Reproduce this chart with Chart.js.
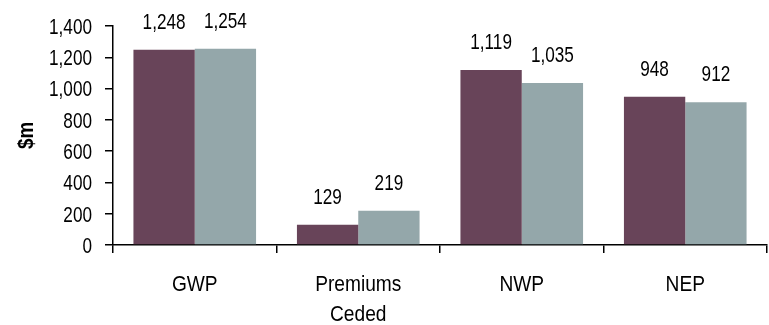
<!DOCTYPE html>
<html>
<head>
<meta charset="utf-8">
<script src="https://cdn.jsdelivr.net/npm/chart.js@4/dist/chart.umd.min.js"></script>
<style>
  html, body { margin: 0; padding: 0; background: #fff; }
  #wrap { width: 769px; height: 325px; }
</style>
</head>
<body>
<div id="wrap"><canvas id="c" width="769" height="325"></canvas></div>
<script>
// Premium figures, $m
const categories = ['GWP', ['Premiums', 'Ceded'], 'NWP', 'NEP'];
const seriesA = [1248, 129, 1119, 948];
const seriesB = [1254, 219, 1035, 912];
const yTicks = [0, 200, 400, 600, 800, 1000, 1200, 1400];

const FONT = '"Liberation Sans", Arial, sans-serif';
const FSIZE = 22;
const SQUEEZE_NUM = 0.78;   // condensed figures
const SQUEEZE_TXT = 0.87;   // condensed words
const fmt = v => Number(v).toLocaleString('en-US');

function narrowText(ctx, text, x, y, align, squeeze, weight) {
  ctx.save();
  ctx.font = (weight || 'normal') + ' ' + FSIZE + 'px ' + FONT;
  ctx.fillStyle = '#000';
  ctx.textAlign = align;
  ctx.textBaseline = 'alphabetic';
  ctx.translate(x, y);
  ctx.scale(squeeze, 1);
  ctx.fillText(text, 0, 0);
  ctx.restore();
}

// Axis text, title and bar values in a condensed face
const narrowLabels = {
  id: 'narrowLabels',
  afterDraw(chart) {
    const ctx = chart.ctx;
    const xs = chart.scales.x, ys = chart.scales.y;
    const capHalf = FSIZE * 0.716 / 2;

    // y tick labels
    ys.ticks.forEach((t, i) => {
      narrowText(ctx, fmt(t.value), ys.right - 21, ys.getPixelForTick(i) + capHalf, 'right', SQUEEZE_NUM);
    });

    // category labels (may span two lines)
    categories.forEach((lab, i) => {
      const lines = Array.isArray(lab) ? lab : [lab];
      const x = xs.getPixelForTick(i);
      lines.forEach((ln, k) => {
        narrowText(ctx, ln, x, 291 + k * 30, 'center', SQUEEZE_TXT);
      });
    });

    // rotated axis title
    ctx.save();
    ctx.translate(33, (chart.chartArea.top + chart.chartArea.bottom) / 2);
    ctx.rotate(-Math.PI / 2);
    narrowText(ctx, '$m', 0, 0, 'center', 0.85, 'bold');
    ctx.restore();

    // bar values
    chart.data.datasets.forEach((ds, i) => {
      chart.getDatasetMeta(i).data.forEach((bar, j) => {
        narrowText(ctx, fmt(ds.data[j]), bar.x, bar.y - 21, 'center', SQUEEZE_NUM);
      });
    });
  }
};

new Chart(document.getElementById('c'), {
  type: 'bar',
  data: {
    labels: categories,
    datasets: [
      { data: seriesA, backgroundColor: '#684459', borderWidth: 0 },
      { data: seriesB, backgroundColor: '#94a7aa', borderWidth: 0 }
    ]
  },
  options: {
    responsive: false,
    animation: false,
    layout: { padding: { top: 26, right: 2, left: 0, bottom: 0 } },
    plugins: { legend: { display: false }, tooltip: { enabled: false } },
    datasets: { bar: { categoryPercentage: 0.75, barPercentage: 1.0 } },
    scales: {
      x: {
        grid: { offset: true, drawOnChartArea: false, drawTicks: true, tickLength: 8, color: '#000', lineWidth: 1.5 },
        border: { display: true, color: '#000', width: 1.5 },
        ticks: { color: 'rgba(0,0,0,0)', font: { family: FONT, size: FSIZE }, maxRotation: 0 },
        afterFit(scale) { scale.height = 80; }
      },
      y: {
        min: 0, max: 1400,
        afterBuildTicks(scale) { scale.ticks = yTicks.map(v => ({ value: v })); },
        grid: { drawOnChartArea: false, drawTicks: true, tickLength: 8, color: '#000', lineWidth: 1.5 },
        border: { display: true, color: '#000', width: 1.5 },
        ticks: { color: 'rgba(0,0,0,0)', font: { family: FONT, size: FSIZE }, callback: v => fmt(v) },
        afterFit(scale) { scale.width = 113; }
      }
    }
  },
  plugins: [narrowLabels]
});
</script>
</body>
</html>
